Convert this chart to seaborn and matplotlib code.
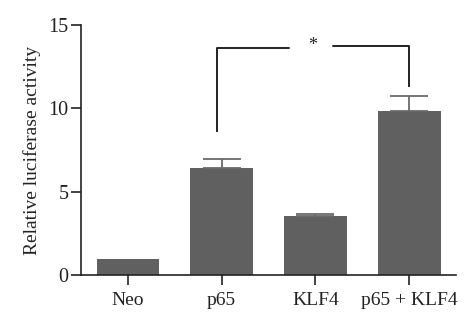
import matplotlib
matplotlib.use("Agg")
import matplotlib.pyplot as plt
import seaborn as sns
import pandas as pd

categories = ["Neo", "p65", "KLF4", "p65 + KLF4"]
values = [1.0, 6.45, 3.53, 9.86]
errors = [0.0, 0.52, 0.16, 0.86]
yticks = [0, 5, 10, 15]
ylabel = "Relative luciferase activity"
sig_label = "*"

sns.set_theme(style="ticks")
plt.rcParams["font.family"] = ["Liberation Serif", "DejaVu Serif"]

df = pd.DataFrame({"group": categories, "value": values})

fig = plt.figure(figsize=(4.74, 3.27), dpi=100)
ax = fig.add_axes([0.171, 0.158, 0.791, 0.7655])

bar_color = "#606060"
sns.barplot(data=df, x="group", y="value", ax=ax, color=bar_color,
            saturation=1, width=0.67, errorbar=None, edgecolor="none")

idx = [i for i, e in enumerate(errors) if e > 0]
ax.errorbar([i for i in idx], [values[i] for i in idx],
            yerr=[[0] * len(idx), [errors[i] for i in idx]], fmt="none",
            ecolor="#6a6a6a", elinewidth=1.3, capsize=14, capthick=1.3)

ax.set_xlim(-0.5, 3.5)
ax.set_ylim(0, 15)
ax.set_yticks(yticks)
ax.set_yticklabels([str(t) for t in yticks])
ax.set_xlabel("")
ax.set_ylabel(ylabel, fontsize=14, labelpad=5, color="#222222")

for s in ["top", "right"]:
    ax.spines[s].set_visible(False)
for s in ["left", "bottom"]:
    ax.spines[s].set_color("#222222")
    ax.spines[s].set_linewidth(1.2)
ax.tick_params(axis="both", direction="out", length=7, width=1.2,
               color="#222222", labelsize=14, labelcolor="#222222")
ax.tick_params(axis="y", pad=2, labelsize=14.5)
ax.tick_params(axis="x", pad=5)

# significance bracket
lw = 1.4
ax.plot([0.952, 0.952], [8.6, 13.64], color="#222222", lw=lw, solid_capstyle="butt")
ax.plot([0.952, 1.718], [13.64, 13.64], color="#222222", lw=lw)
ax.plot([2.186, 2.995], [13.76, 13.76], color="#222222", lw=lw)
ax.plot([2.995, 2.995], [13.76, 11.26], color="#222222", lw=lw, solid_capstyle="butt")
ax.text(1.97, 13.75, sig_label, ha="center", va="center", fontsize=13,
        color="#222222")

fig.savefig("out.png", dpi=100)
